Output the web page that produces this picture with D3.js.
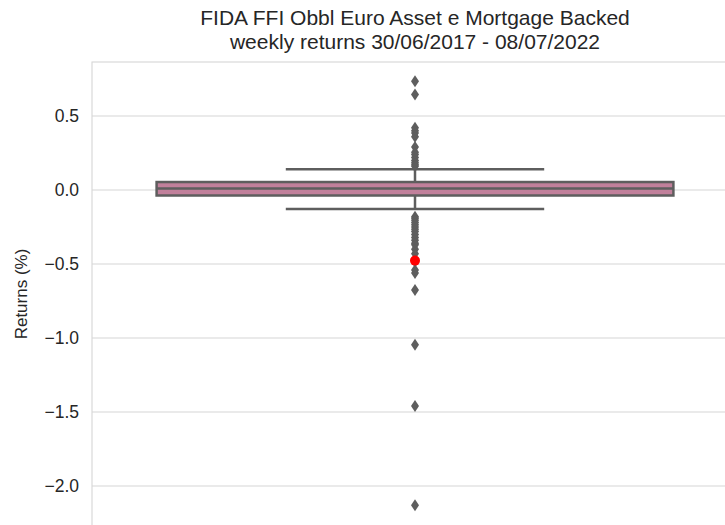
<!DOCTYPE html>
<html>
<head>
<meta charset="utf-8">
<script src="https://cdn.jsdelivr.net/npm/d3@7"></script>
<style>
  body { margin: 0; background: #fff; }
  text { font-family: "Liberation Sans", Arial, sans-serif; }
</style>
</head>
<body>
<div id="chart"></div>
<script>
// title lines
var titleLines = ["FIDA FFI Obbl Euro Asset e Mortgage Backed", "weekly returns 30/06/2017 - 08/07/2022"];

// box summary (weekly returns, %)
var boxStats = [-0.128, -0.037, 0.010, 0.054, 0.140]; // low whisker, q1, median, q3, high whisker

// points beyond the whiskers
var outliersHigh = [0.735, 0.645, 0.42, 0.40, 0.385, 0.36, 0.29, 0.255, 0.24, 0.22, 0.20, 0.185, 0.17, 0.16];
var outliersLow  = [-0.18, -0.19, -0.205, -0.22, -0.235, -0.25, -0.265, -0.28, -0.30, -0.32, -0.34, -0.36,
                    -0.37, -0.40, -0.43, -0.485, -0.54, -0.56, -0.675, -1.045, -1.46, -2.13];

// last week's return, drawn in red
var lastReturn = [-0.477];

var yTicks = [-2.0, -1.5, -1.0, -0.5, 0.0, 0.5];

var W = 725, H = 525;
var margin = {top: 62, left: 92};
var plotRight = 738, plotBottom = 526;

var gray = "#5e5e5e", boxFill = "#c1809b", gridColor = "#d6d6d6", textColor = "#262626";

var svg = d3.select("#chart").append("svg")
    .attr("width", W)
    .attr("height", H);

var x = d3.scaleLinear().domain([-0.5, 0.5]).range([margin.left, plotRight]);
var y = d3.scaleLinear().domain([-2.27, 0.865]).range([plotBottom, margin.top]);

// grid lines
svg.append("g").selectAll("line")
  .data(yTicks)
  .enter().append("line")
    .attr("x1", margin.left).attr("x2", plotRight)
    .attr("y1", function(d) { return y(d); })
    .attr("y2", function(d) { return y(d); })
    .attr("stroke", gridColor)
    .attr("stroke-width", 1.1);

// frame (only left and top fall inside the picture)
svg.append("rect")
    .attr("x", margin.left).attr("y", margin.top)
    .attr("width", plotRight - margin.left)
    .attr("height", plotBottom - margin.top)
    .attr("fill", "none")
    .attr("stroke", gridColor)
    .attr("stroke-width", 1.1);

// y axis labels
var yAxis = svg.append("g")
    .attr("transform", "translate(" + margin.left + ",0)")
    .call(d3.axisLeft(y).tickValues(yTicks).tickSize(0).tickPadding(13)
      .tickFormat(function(d) { return d3.format(".1f")(d).replace("-", "\u2212"); }));
yAxis.select(".domain").remove();
yAxis.selectAll("text")
    .attr("fill", textColor)
    .style("font-size", "17.5px")
    .style("font-family", "'Liberation Sans', Arial, sans-serif");

svg.append("text")
    .attr("transform", "translate(27," + ((margin.top + plotBottom) / 2) + ") rotate(-90)")
    .attr("text-anchor", "middle")
    .attr("fill", textColor)
    .style("font-size", "17px")
    .text("Returns (%)");

// title
svg.append("g").selectAll("text")
  .data(titleLines)
  .enter().append("text")
    .attr("x", x(0))
    .attr("y", function(d, i) { return 25 + i * 24; })
    .attr("text-anchor", "middle")
    .attr("fill", textColor)
    .style("font-size", "21px")
    .text(function(d) { return d; });

// box plot
var bp = svg.append("g");
var cx = x(0);

// whiskers
bp.append("line")
    .attr("x1", cx).attr("x2", cx)
    .attr("y1", y(boxStats[3])).attr("y2", y(boxStats[4]))
    .attr("stroke", gray).attr("stroke-width", 2.5);
bp.append("line")
    .attr("x1", cx).attr("x2", cx)
    .attr("y1", y(boxStats[1])).attr("y2", y(boxStats[0]))
    .attr("stroke", gray).attr("stroke-width", 2.5);

// caps
bp.selectAll(".cap")
  .data([boxStats[0], boxStats[4]])
  .enter().append("line")
    .attr("class", "cap")
    .attr("x1", x(-0.2)).attr("x2", x(0.2))
    .attr("y1", function(d) { return y(d); })
    .attr("y2", function(d) { return y(d); })
    .attr("stroke", gray).attr("stroke-width", 2.5);

// box
bp.append("rect")
    .attr("x", x(-0.4))
    .attr("y", y(boxStats[3]))
    .attr("width", x(0.4) - x(-0.4))
    .attr("height", y(boxStats[1]) - y(boxStats[3]))
    .attr("fill", boxFill)
    .attr("stroke", gray).attr("stroke-width", 2.5);

// median
bp.append("line")
    .attr("x1", x(-0.4)).attr("x2", x(0.4))
    .attr("y1", y(boxStats[2])).attr("y2", y(boxStats[2]))
    .attr("stroke", gray).attr("stroke-width", 2.5);

// fliers as thin diamonds
var diamond = "M0,-6L4,0L0,6L-4,0Z";
bp.selectAll(".flier")
  .data(outliersHigh.concat(outliersLow))
  .enter().append("path")
    .attr("class", "flier")
    .attr("d", diamond)
    .attr("transform", function(d) { return "translate(" + cx + "," + y(d) + ")"; })
    .attr("fill", gray);

// red marker for last return
svg.selectAll(".last")
  .data(lastReturn)
  .enter().append("circle")
    .attr("class", "last")
    .attr("cx", cx)
    .attr("cy", function(d) { return y(d); })
    .attr("r", 5)
    .attr("fill", "red");
</script>
</body>
</html>
